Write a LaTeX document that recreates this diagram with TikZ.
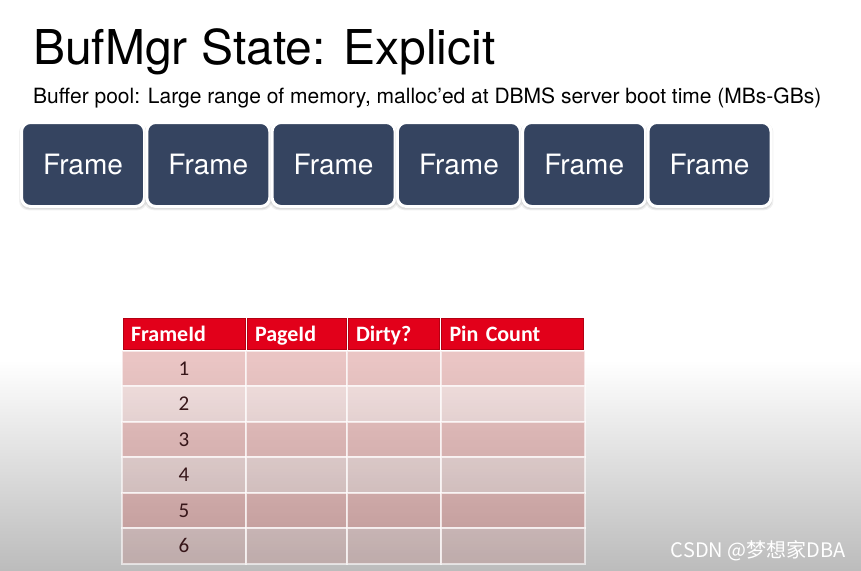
\documentclass[tikz,border=0pt]{standalone}
\usepackage{fontspec}
\setmainfont{TeX Gyre Heros}
\newfontfamily\calibri{Carlito}
\newfontfamily\cjk{Noto Sans CJK SC}
\usetikzlibrary{shadows,positioning}
\definecolor{frameblue}{RGB}{53,68,96}
\definecolor{headred}{RGB}{226,0,26}
\definecolor{headline}{RGB}{180,0,18}
\definecolor{rowred}{RGB}{192,80,77}
\definecolor{numtext}{RGB}{55,22,25}
\definecolor{bggray}{RGB}{188,188,188}
\tikzset{
  framebox/.style={rectangle, rounded corners=9pt, fill=frameblue, draw=white, line width=3pt,
    minimum width=123pt, minimum height=84pt, inner sep=0pt, text=white,
    font=\fontsize{28}{30}\selectfont,
    general shadow={shadow xshift=0pt, shadow yshift=-2pt, shadow scale=1.04, fill=black, opacity=0.06},
    general shadow={shadow xshift=0pt, shadow yshift=-2pt, shadow scale=1.02, fill=black, opacity=0.08},
    general shadow={shadow xshift=0pt, shadow yshift=-1.5pt, fill=black, opacity=0.12}},
  headcell/.style={rectangle, fill=headred, draw=headline, line width=0.8pt, minimum height=31pt,
    inner xsep=8pt, inner ysep=0pt, text height=18pt, text depth=3pt, align=left, text=white,
    font=\calibri\bfseries\fontsize{22}{24}\selectfont},
  rowcell/.style={rectangle, fill=rowred, draw=white, line width=2pt, draw opacity=0.6, text opacity=1,
    minimum height=35.45pt, inner sep=0pt, text=numtext, font=\calibri\fontsize{21}{23}\selectfont}
}
\begin{document}
\begin{tikzpicture}[x=1pt, y=-1pt]
  \useasboundingbox (0,0) rectangle (861,570);
  % background
  \fill[white] (0,0) rectangle (861,361);
  \shade[top color=white, bottom color=bggray] (0,360) rectangle (861,570);
  % title and subtitle
  \node[anchor=base west, inner sep=0pt, font=\fontsize{48}{50}\selectfont] (title) at (33,64) {BufMgr State: Explicit};
  \node[anchor=base west, inner sep=0pt, font=\fontsize{21}{23}\selectfont] (subtitle) at (33,103)
    {Buffer pool: Large range of memory, malloc’ed at DBMS server boot time (MBs-GBs)};
  % buffer pool frames
  \foreach \N in {1,...,6}
    {
    \node[framebox] (frame\N) at ({83 + 125.3 * (\N - 1)}, 164.5) {Frame};
    }
  % table header and rows
  \def\rowTop{351}
  \def\rowHeight{35.45}
  \foreach \C/\X/\W/\T in {1/184/124/FrameId, 2/296.5/101/PageId, 3/393.75/93.5/Dirty?, 4/512.5/144/Pin Count}
    {
    \node[headcell, text width={\W pt - 18pt}] (h\C) at (\X, 334) {\T};
    \foreach \R in {1,...,6}
      {
      \pgfmathsetmacro{\Op}{isodd(\R) ? 0.33 : 0.17}
      \node[rowcell, fill opacity=\Op, minimum width=\W pt] (r\R c\C) at (\X, {\rowTop + \rowHeight * (\R - 0.5)})
        {\ifnum\C=1 \R\fi};
      }
    }
  % watermark
  \node[anchor=base east, inner sep=0pt, text=white, font=\cjk\fontsize{20}{22}\selectfont] (mark) at (846,557) {CSDN @梦想家DBA};
\end{tikzpicture}
\end{document}
